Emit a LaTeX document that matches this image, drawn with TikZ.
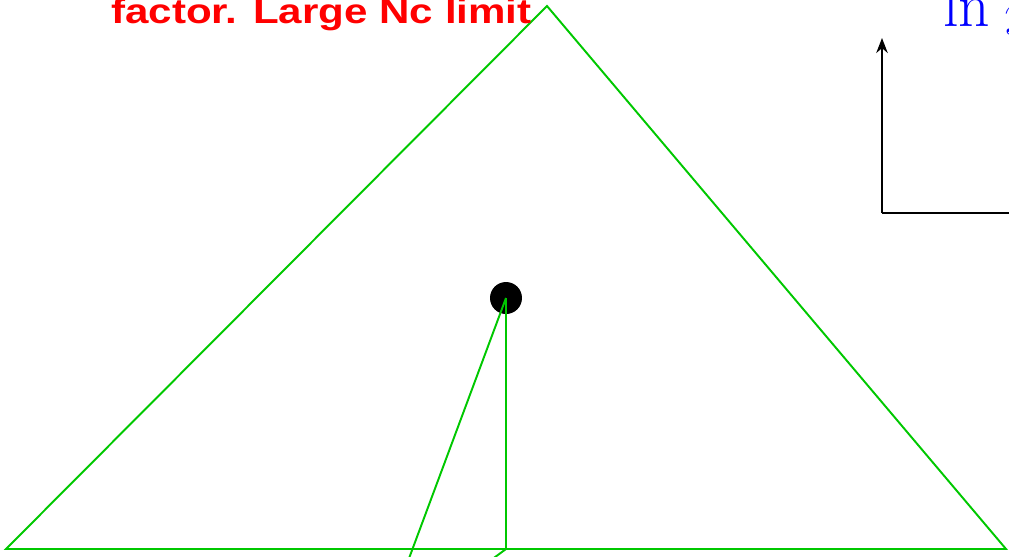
\documentclass[tikz,border=0pt]{standalone}
\usepackage{fontspec}
\usepackage{graphicx}
\usetikzlibrary{arrows.meta}
\newfontfamily\labelfont{Liberation Sans}
\definecolor{grass}{RGB}{0,200,0}
\definecolor{signal}{RGB}{255,0,0}
\definecolor{deepblue}{RGB}{0,0,255}
\tikzset{
  >={Stealth[length=3mm,width=2.3mm]},
  edge/.style={draw=grass,line width=1.1pt},
  axis/.style={draw=black,line width=1.1pt},
  vertex/.style={circle,fill=black,inner sep=0pt,minimum size=6.4mm},
  headline/.style={font=\labelfont\bfseries\fontsize{19.8}{22}\selectfont,text=signal,inner sep=0pt,anchor=base west},
  axislabel/.style={font=\fontsize{35}{38}\selectfont,text=deepblue,inner sep=0pt,anchor=base west},
}
\begin{document}
\begin{tikzpicture}[x=0.02cm,y=-0.02cm]
  \useasboundingbox (0,0) rectangle (1009,556);
  \clip (0,0) rectangle (1009,556);
  % triangle
  \coordinate (top) at (547,6);
  \coordinate (left) at (6,549);
  \coordinate (right) at (1006,549);
  \draw[edge] (left) -- (top) -- (right) -- cycle;
  % vertex and its legs
  \node[vertex] (v) at (506,298) {};
  \coordinate (foot) at (506,549);
  \coordinate (leg) at (392,604);
  \coordinate (tail) at (464,580);
  \draw[edge] (v.center) -- (foot) -- (tail);
  \draw[edge] (v.center) -- (leg);
  % axes
  \coordinate (o) at (882,213);
  \coordinate (ytip) at (882,38);
  \coordinate (xend) at (1030,213);
  \draw[axis,->] (o) -- (ytip);
  \draw[axis] (o) -- (xend);
  % labels
  \node[headline] (head) at (111,23) {\scalebox{1.21}[1]{factor. Large Nc limit}};
  \node[axislabel] (lny) at (943,26) {$\ln\,y$};
\end{tikzpicture}
\end{document}
